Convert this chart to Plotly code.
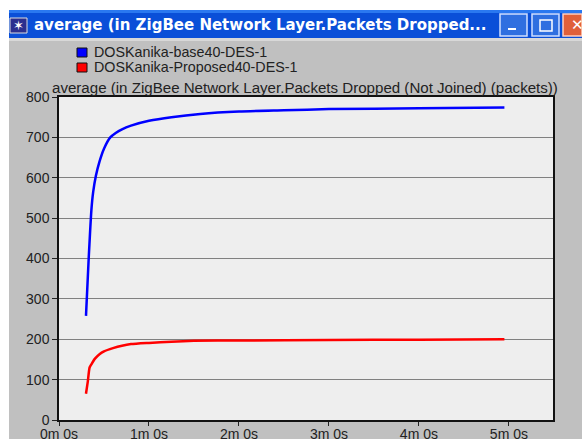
import plotly.graph_objects as go

WIDTH, HEIGHT = 582, 439
L, R, T, B = 59, 553, 97, 420

minutes_base = [0.30, 0.33, 0.36, 0.38, 0.41, 0.45, 0.50, 0.57, 0.63, 0.70, 0.80, 1.00, 1.25, 1.57, 2.00, 2.50, 3.00, 4.00, 4.95]
values_base = [258, 400, 520, 565, 605, 640, 672, 700, 711, 720, 729, 741, 750, 758, 764, 767, 770, 772, 774]
minutes_prop = [0.30, 0.32, 0.34, 0.36, 0.40, 0.45, 0.50, 0.60, 0.70, 0.80, 1.00, 1.25, 1.50, 2.00, 3.00, 4.00, 4.95]
values_prop = [65, 95, 130, 138, 152, 163, 170, 178, 184, 188, 191, 194, 196, 197, 198, 199, 200]
x_ticks = [0, 1, 2, 3, 4, 5]
x_labels = ["0m 0s", "1m 0s", "2m 0s", "3m 0s", "4m 0s", "5m 0s"]
y_ticks = [0, 100, 200, 300, 400, 500, 600, 700, 800]
name_base = "DOSKanika-base40-DES-1"
name_prop = "DOSKanika-Proposed40-DES-1"
plot_title = "average (in ZigBee Network Layer.Packets Dropped (Not Joined) (packets))"
window_title = "average (in ZigBee Network Layer.Packets Dropped..."


def px(v):
    return (v - L) / (R - L)


def py(v):
    return (B - v) / (B - T)


def rect(x0, y0, x1, y1, fill, line=None, width=0, layer="below"):
    return dict(type="rect", xref="paper", yref="paper", x0=px(x0), x1=px(x1), y0=py(y0), y1=py(y1),
                fillcolor=fill, line=dict(color=line or fill, width=width), layer=layer)


def text(x, y, s, size=14.3, color="#222222", family="Liberation Sans", anchor="left"):
    return dict(xref="paper", yref="paper", x=px(x), y=py(y), text=s, showarrow=False, xanchor=anchor,
                yanchor="middle", borderpad=0, font=dict(size=size, color=color, family=family))


fig = go.Figure()
fig.add_trace(go.Scatter(x=minutes_base, y=values_base, mode="lines", name=name_base,
                         line=dict(color="#0000ff", width=2.5, shape="spline", smoothing=0.6)))
fig.add_trace(go.Scatter(x=minutes_prop, y=values_prop, mode="lines", name=name_prop,
                         line=dict(color="#ff0000", width=2.5, shape="spline", smoothing=0.6)))

shapes = [
    rect(9, 10, 582, 38, "#0a4fd8"),
    rect(9, 10, 582, 13, "#2a78f0"),
    rect(9, 38, 582, 41, "#d8d8d8"),
    rect(9, 41, 582, 439, "#c0c0c0"),
    rect(L, T, R, B, "#eeeeee"),
    rect(10, 18, 27, 33, "#2b2f8f", "#dddddd", 1),
    rect(500, 14, 527, 36, "#2f6fe0", "#cfe0ff", 1.5),
    rect(532, 14, 559, 36, "#2f6fe0", "#cfe0ff", 1.5),
    rect(563, 14, 582, 36, "#e0603a", "#ffd0c0", 1.5),
    rect(508, 28, 516, 30, "#ffffff"),
    rect(540, 20, 552, 31, "rgba(0,0,0,0)", "#ffffff", 1.5),
    rect(77, 48, 87, 57, "#0000ff", "#111111", 1),
    rect(77, 63, 87, 72, "#ff0000", "#111111", 1),
]

annotations = [
    text(33, 25, "<b>" + window_title + "</b>", size=15, color="#ffffff", family="DejaVu Sans"),
    text(570, 25, "✕", size=15, color="#ffffff", family="DejaVu Sans"),
    text(18, 25, "✶", size=13, color="#ffffff", family="DejaVu Sans", anchor="center"),
    text(93, 52, name_base),
    text(93, 67, name_prop),
    text(51, 88, plot_title, size=15.1),
]

fig.update_layout(
    width=WIDTH, height=HEIGHT,
    margin=dict(l=L, r=WIDTH - R, t=T, b=HEIGHT - B, autoexpand=False),
    paper_bgcolor="#ffffff", plot_bgcolor="#eeeeee",
    showlegend=False, shapes=shapes, annotations=annotations,
    font=dict(family="Liberation Sans", size=14, color="#222222"),
    xaxis=dict(range=[0, 5.49], tickmode="array", tickvals=x_ticks, ticktext=x_labels,
               ticks="outside", ticklen=4, tickcolor="#222222", showgrid=False, zeroline=False,
               ticklabelstandoff=-4, tickfont=dict(size=14),
               showline=True, linecolor="#111111", linewidth=1.5, mirror=True),
    yaxis=dict(range=[0, 800], tickmode="array", tickvals=y_ticks, ticks="outside", ticklen=5,
               tickcolor="#222222", showgrid=True, gridcolor="#808080", gridwidth=1, zeroline=False,
               showline=True, linecolor="#111111", linewidth=1.5, mirror=True),
)
fig.write_html("out.html", config={"displayModeBar": False},
               post_script="document.documentElement.style.overflow='hidden';document.body.style.margin='0';")
